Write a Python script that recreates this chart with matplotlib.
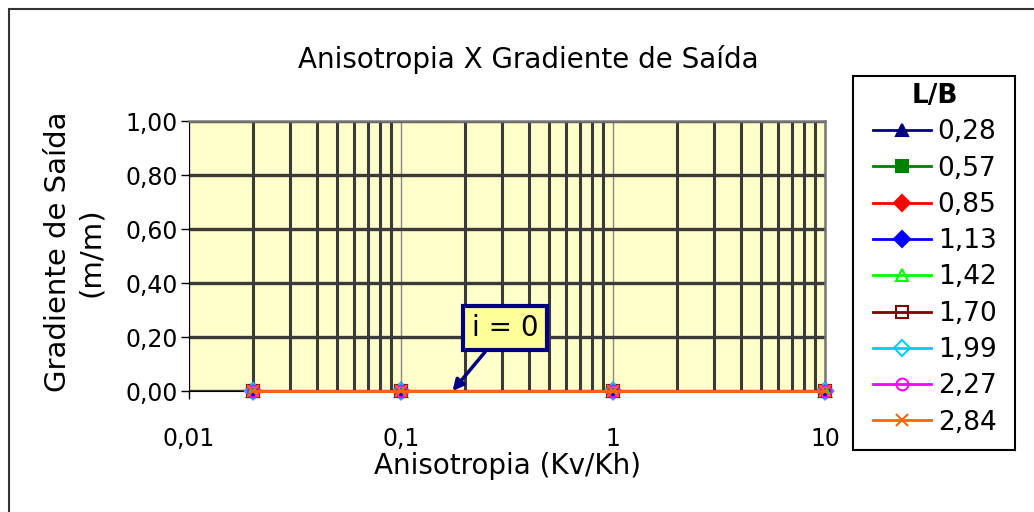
import numpy as np
import matplotlib.pyplot as plt
from matplotlib.ticker import FixedLocator, LogLocator, NullFormatter
from matplotlib.patches import Rectangle

# data: every series sits at 0 for each anisotropy value
anisotropia = [0.02, 0.1, 1, 10]
lb_labels = ['0,28', '0,57', '0,85', '1,13', '1,42', '1,70', '1,99', '2,27', '2,84']
gradiente = {lb: [0.0, 0.0, 0.0, 0.0] for lb in lb_labels}

colors = ['#000080', '#008000', '#ff0000', '#0000ff', '#00ff00', '#800000', '#00ccff', '#ff00ff', '#ff6600']
markers = ['^', 's', 'D', 'D', '^', 's', 'D', 'o', 'x']
filled = [True, True, True, True, False, False, False, False, True]

x_ticks = [0.01, 0.1, 1, 10]
x_ticklabels = ['0,01', '0,1', '1', '10']
y_ticks = [0.0, 0.2, 0.4, 0.6, 0.8, 1.0]
y_ticklabels = ['0,00', '0,20', '0,40', '0,60', '0,80', '1,00']

plt.rcParams['font.family'] = 'DejaVu Sans'

W, H = 1034, 512
fig = plt.figure(figsize=(W / 100, H / 100), dpi=100)
# outer chart border (runs off the right and bottom edges)
fig.patches.append(Rectangle((9 / W, -0.1), 1.2, 1 - 9 / H + 0.1, transform=fig.transFigure,
                             fill=False, edgecolor='#333333', linewidth=1.5, zorder=0))

ax = fig.add_axes([189 / W, 1 - 391 / H, (825 - 189) / W, (391 - 121) / H])
ax.set_facecolor('#ffffcc')
ax.set_xscale('log')
ax.set_xlim(0.01, 10)
ax.set_ylim(0, 1)

# gridlines: minor vertical lines dark and thick, decade lines thin grey
ax.xaxis.set_major_locator(FixedLocator(x_ticks))
ax.xaxis.set_minor_locator(LogLocator(base=10, subs=np.arange(2, 10)))
ax.xaxis.set_minor_formatter(NullFormatter())
ax.grid(True, which='minor', axis='x', color='#3a3a3a', linewidth=2.2, zorder=1)
ax.grid(True, which='major', axis='x', color='#888888', linewidth=1.0, zorder=1)
ax.grid(True, which='major', axis='y', color='#3a3a3a', linewidth=2.4, zorder=1)
ax.set_axisbelow(True)

for i, lb in enumerate(lb_labels):
    ax.plot(anisotropia, gradiente[lb], color=colors[i], marker=markers[i], markersize=8.5,
            markerfacecolor=colors[i] if filled[i] else 'none', markeredgecolor=colors[i],
            markeredgewidth=1.5, linewidth=2, label=lb, clip_on=False, zorder=3 + i)

ax.set_xticks(x_ticks)
ax.set_xticklabels(x_ticklabels)
ax.set_yticks(y_ticks)
ax.set_yticklabels(y_ticklabels)
ax.tick_params(axis='both', which='major', labelsize=17, direction='out', length=6, width=1)
ax.tick_params(axis='y', which='major', pad=2)
ax.tick_params(axis='x', which='major', pad=20)
ax.tick_params(axis='x', which='minor', length=0)

for side in ['left', 'bottom']:
    ax.spines[side].set_color('black')
for side in ['top', 'right']:
    ax.spines[side].set_color('#777777')
    ax.spines[side].set_linewidth(1.8)

fig.text(528 / W, 1 - 60 / H, 'Anisotropia X Gradiente de Saída', fontsize=20, ha='center', va='center')
ax.set_xlabel('Anisotropia (Kv/Kh)', fontsize=20, labelpad=1)
ax.set_ylabel('Gradiente de Saída\n(m/m)', fontsize=21, linespacing=1.25)
ax.yaxis.set_label_coords((105 - 189) / 636, (391 - 252) / 270)

ax.annotate('i = 0', xy=(0.175, 0.0), xytext=(505 / W, 1 - 328 / H), textcoords='figure fraction',
            fontsize=20, ha='center', va='center',
            bbox=dict(boxstyle='square,pad=0.3', facecolor='#ffff99', edgecolor='#000080', linewidth=3),
            arrowprops=dict(arrowstyle='-|>', color='#000080', linewidth=2.5, mutation_scale=16,
                            shrinkA=0, shrinkB=0),
            zorder=20)

# legend box drawn separately so its size matches the reference
fig.patches.append(Rectangle((853 / W, 1 - 450 / H), (1015 - 853) / W, (450 - 76) / H,
                             transform=fig.transFigure, fill=True, facecolor='white',
                             edgecolor='black', linewidth=1.5, zorder=1))
leg = fig.legend(loc='upper left', bbox_to_anchor=(873 / W, 1 - 83 / H), title='L/B',
                 fontsize=19, title_fontproperties={'weight': 'bold', 'size': 19},
                 frameon=False, handlelength=2.2, labelspacing=0.39, borderpad=0,
                 handletextpad=0.25, borderaxespad=0)

fig.savefig('out.png', dpi=100)
